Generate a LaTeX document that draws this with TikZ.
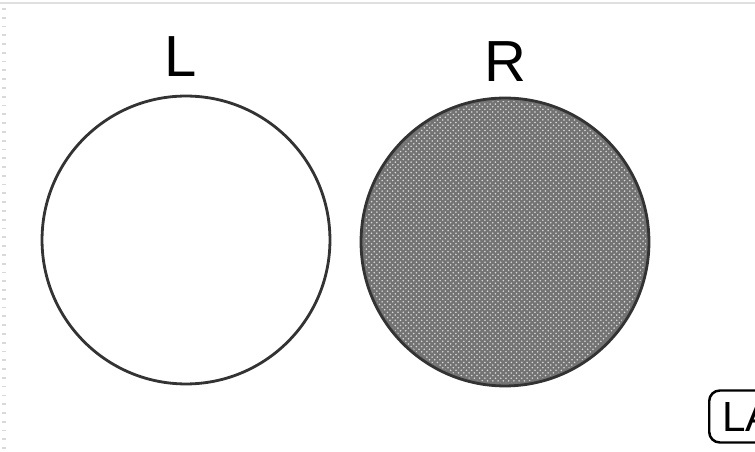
\documentclass[tikz,border=0pt]{standalone}
\usepackage{fontspec}
\setmainfont{Liberation Sans}
\usetikzlibrary{positioning,patterns}

\begin{document}
\begin{tikzpicture}[x=0.02cm, y=-0.02cm,
  setcircle/.style={draw=black!80, circle, line width=1.6pt, minimum size=5.76cm, inner sep=0pt},
  setlabel/.style={inner sep=0pt, font=\fontsize{33}{36}\selectfont},
  tag/.style={draw, rounded corners=6pt, line width=1.4pt, minimum height=1.04cm,
    inner xsep=0.26cm, anchor=west, font=\fontsize{24}{28}\selectfont}]

\useasboundingbox (0,0) rectangle (755,452);
\clip (0,0) rectangle (755,452);

% bordo della schermata
\draw[black!12, line width=1.2pt] (0,3) -- (755,3);
\draw[black!15, line width=2pt, dash pattern=on 1pt off 4pt] (4,8) -- (4,452);

% insiemi L e R
\node[setcircle] (lset) at (186,240) {};
\node[setcircle, fill=black!55] (rset) at (505,242) {};
\fill[pattern=crosshatch dots, pattern color=white!85!black] (rset.center) circle[radius=141];
\node[setlabel, above=0.36cm of lset, xshift=-0.1cm] (llab) {L};
\node[setlabel, above=0.3cm of rset] (rlab) {R};

% etichetta in basso a destra
\node[tag] (labtag) at (708,416.5) {LA};

\end{tikzpicture}
\end{document}
